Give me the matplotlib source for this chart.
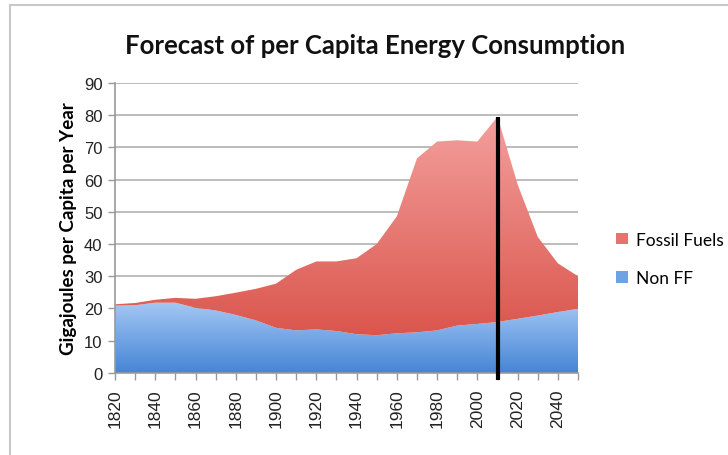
import numpy as np
import matplotlib.pyplot as plt
from matplotlib.lines import Line2D
from matplotlib.patches import Patch
from matplotlib.colors import LinearSegmentedColormap

years = list(range(1820, 2051, 10))
non_ff = [20.9, 21.0, 21.8, 21.8, 20.2, 19.4, 18.0, 16.3, 14.0, 13.2, 13.5, 13.0,
          12.0, 11.7, 12.3, 12.6, 13.2, 14.7, 15.2, 15.8, 16.8, 17.8, 18.9, 19.9]
fossil = [0.4, 0.7, 0.9, 1.5, 2.8, 4.4, 6.9, 9.8, 13.7, 18.8, 21.1, 21.6,
          23.6, 28.3, 36.3, 54.0, 58.6, 57.5, 56.6, 63.7, 41.7, 24.4, 15.1, 10.1]
xlabels = [str(y) for y in range(1820, 2041, 20)]
divider_year = 2010

plt.rcParams['font.family'] = ['Lato', 'DejaVu Sans']
tick_font = ['Liberation Sans', 'DejaVu Sans']

fig = plt.figure(figsize=(7.28, 4.56), dpi=100)
ax = fig.add_axes([0.158, 0.180, 0.636, 0.636])

x = np.arange(len(years))
nf = np.array(non_ff)
tot = nf + np.array(fossil)

# gradient fills clipped to the stacked areas
blue_cmap = LinearSegmentedColormap.from_list("b", ["#4685d6", "#a9cbf5"])
red_cmap = LinearSegmentedColormap.from_list("r", ["#d9544b", "#f4a09d"])
grad = np.linspace(0, 1, 256).reshape(-1, 1)

blue_poly = ax.fill_between(x, 0, nf, color="none", lw=0)
red_poly = ax.fill_between(x, nf, tot, color="none", lw=0)

img_b = ax.imshow(grad, cmap=blue_cmap, aspect="auto", origin="lower",
                  extent=[x[0], x[-1], 0, 23], zorder=2)
img_b.set_clip_path(blue_poly.get_paths()[0], transform=ax.transData)
img_r = ax.imshow(grad, cmap=red_cmap, aspect="auto", origin="lower",
                  extent=[x[0], x[-1], 10, 80], zorder=2)
img_r.set_clip_path(red_poly.get_paths()[0], transform=ax.transData)

# forecast divider
xd = years.index(divider_year)
ax.plot([xd, xd], [-2.2, tot[xd]], color="black", lw=3, zorder=4, clip_on=False,
        solid_capstyle="butt")

ax.set_xlim(x[0], x[-1])
ax.set_ylim(0, 90)
ax.set_yticks(range(0, 91, 10))
ax.yaxis.grid(True, color="#b0b0b0", lw=1.2)
ax.set_axisbelow(True)
ax.set_xticks(x)
ax.set_xticklabels([str(y) if str(y) in xlabels else "" for y in years],
                   rotation=90, fontsize=12.5, color="#222222", family=tick_font)
for lab in ax.get_yticklabels():
    lab.set_family(tick_font)
ax.tick_params(axis="x", length=5, color="#999999", width=1, pad=6)
ax.tick_params(axis="y", length=5, color="#999999", width=1, labelsize=12,
               labelcolor="#222222", pad=4)
for s in ["top", "right"]:
    ax.spines[s].set_visible(False)
for s in ["left", "bottom"]:
    ax.spines[s].set_color("#999999")
    ax.spines[s].set_linewidth(1.2)

ax.set_ylabel("Gigajoules per Capita per Year", fontsize=13.5, fontweight="bold",
              labelpad=5)
fig.text(0.515, 0.9, "Forecast of per Capita Energy Consumption", ha="center",
         va="center", fontsize=18.5, fontweight="bold", color="#111111")

handles = [Patch(facecolor="#e8726c", edgecolor="none"),
           Patch(facecolor="#6ea2e6", edgecolor="none")]
fig.legend(handles, ["Fossil Fuels", "Non FF"], loc="center left",
           bbox_to_anchor=(0.825, 0.43), frameon=False, fontsize=12.5,
           handlelength=0.65, handleheight=0.65, handletextpad=0.5,
           labelspacing=1.3)

# outer chart border
fig.add_artist(Line2D([0.014, 1.0], [0.987, 0.987], color="#c8c8c8", lw=1.5))
fig.add_artist(Line2D([0.014, 0.014], [0.0, 0.987], color="#c8c8c8", lw=1.5))

fig.savefig("out.png", dpi=100)
